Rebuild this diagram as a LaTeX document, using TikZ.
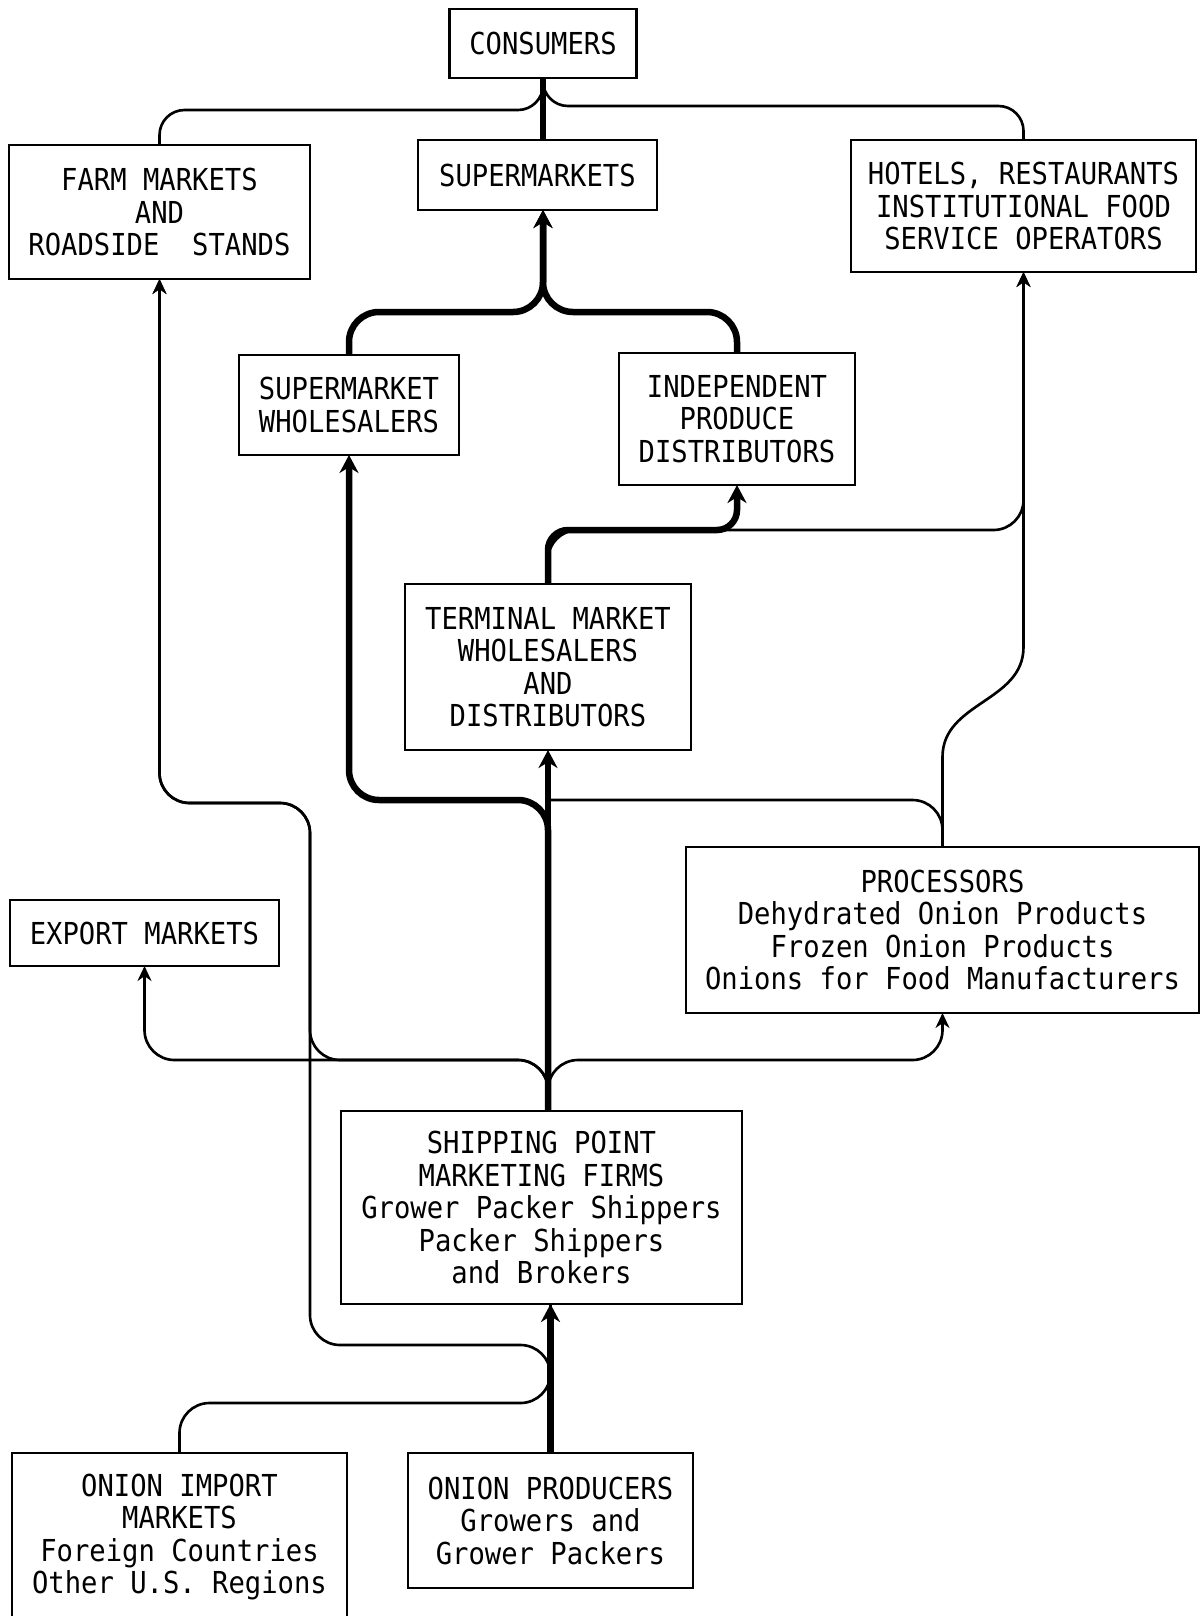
\documentclass[tikz,border=0pt]{standalone}
\usepackage{fontspec}
\usetikzlibrary{positioning,calc,arrows.meta}
\newfontfamily\boxfont[FakeStretch=0.9]{DejaVu Sans Mono}

\begin{document}
\begin{tikzpicture}[flowbox/.style={draw,line width=1.5pt,align=center,outer sep=0pt,inner sep=1mm,font=\boxfont\fontsize{17.2}{18.5}\selectfont},
		thinline/.style={line width=1.5pt,rounded corners=6mm},
		thickline/.style={line width=3.7pt,rounded corners=6mm},
		thinarrow/.style={thinline,-{Stealth[length=3mm,width=2.8mm]}},
		thickarrow/.style={thickline,-{Stealth[length=3.6mm,width=3.8mm]}}]
			\useasboundingbox (0,0) rectangle (240mm,-323.2mm);
			\clip (0,0) rectangle (240mm,-323.2mm);

			\node[flowbox,minimum width=37.4mm,minimum height=13.8mm]												(cons)	at (108.6mm,-8.7mm) {CONSUMERS};
			\node[flowbox,minimum width=47.8mm,minimum height=14mm,node distance=12.4mm,below=of cons,xshift=-1.1mm]		(supm)	{SUPERMARKETS};
			\node[flowbox,minimum width=60.2mm,minimum height=26.8mm,node distance=21.6mm,left=of supm,yshift=-7.4mm]		(farm)	{FARM MARKETS\\AND\\ROADSIDE~~STANDS};
			\node[flowbox,minimum width=69mm,minimum height=26.4mm,node distance=38.8mm,right=of supm,yshift=-6.2mm]		(hotel)	{HOTELS, RESTAURANTS\\INSTITUTIONAL FOOD\\SERVICE OPERATORS};

			\node[flowbox,minimum width=44mm,minimum height=20mm,node distance=29mm,below=of supm,xshift=-37.7mm]			(swhl)	{SUPERMARKET\\WHOLESALERS};
			\node[flowbox,minimum width=47.2mm,minimum height=26.4mm,node distance=32mm,right=of swhl,yshift=-2.8mm]		(indp)	{INDEPENDENT\\PRODUCE\\DISTRIBUTORS};
			\node[flowbox,minimum width=57.2mm,minimum height=33.2mm,node distance=19.8mm,below=of indp,xshift=-37.8mm]		(term)	{TERMINAL MARKET\\WHOLESALERS\\AND\\DISTRIBUTORS};

			\node[flowbox,minimum width=102.6mm,minimum height=33.2mm,node distance=19.4mm,below=of term,xshift=78.9mm]	(proc)	{PROCESSORS\\Dehydrated Onion Products\\Frozen Onion Products\\Onions for Food Manufacturers};
			\node[flowbox,minimum width=53.8mm,minimum height=13.2mm,node distance=81.4mm,left=of proc,yshift=-0.6mm]		(expo)	{EXPORT MARKETS};
			\node[flowbox,minimum width=80.2mm,minimum height=38.6mm,node distance=72.2mm,below=of term,xshift=-1.3mm]		(ship)	{SHIPPING POINT\\MARKETING FIRMS\\Grower Packer Shippers\\Packer Shippers\\and Brokers};
			\node[flowbox,minimum width=57mm,minimum height=27mm,node distance=29.8mm,below=of ship,xshift=1.8mm]			(prod)	{ONION PRODUCERS\\Growers and\\Grower Packers};
			\node[flowbox,minimum width=67mm,minimum height=33.6mm,node distance=12.2mm,left=of prod,yshift=-3.3mm]		(impt)	{ONION IMPORT\\MARKETS\\Foreign Countries\\Other U.S. Regions};

			\draw[thinline,rounded corners=5mm] (farm.north) |- ($(cons.south)+(0,-6.4mm)$) -- (cons.south);
			\draw[thinline,rounded corners=5mm] (hotel.north) |- ($(cons.south)+(0,-5.6mm)$) -- (cons.south);
			\draw[thinarrow] (term.south |- ship.north) |- ($(expo.south -| farm.east)+(0,-18.8mm)$) |- ($(farm.south)+(0,-104.8mm)$) -- (farm.south);
			\draw[thinarrow] (prod.north) |- ($(ship.south -| farm.east)+(0,-8.2mm)$) |- ($(farm.south)+(0,-104.8mm)$) -- (farm.south);
			\draw[thinline] (impt.north) |- ($(prod.north)+(0,10mm)$) -- (prod.north |- ship.south);
			\draw[thinarrow] (term.south |- ship.north) |- ($(expo.south)+(0,-18.8mm)$) -- (expo.south);
			\draw[thinarrow] (term.south |- ship.north) |- ($(proc.south)+(0,-9.4mm)$) -- (proc.south);
			\draw[thinline] (proc.north) |- ($(term.south)+(0,-10mm)$);
			\draw[thinarrow,sharp corners] (proc.north) -- ++(0,18mm) .. controls +(0,11mm) and +(0,-11mm) .. ($(hotel.south)+(0,-75mm)$) -- (hotel.south);
			\draw[thinarrow] (term.north) |- ($(indp.south)+(0,-9mm)$) -| (hotel.south);

			\draw[thickline] (supm.north -| cons.south) -- (cons.south);
			\draw[thickarrow] (swhl.north) |- ($(cons.south |- supm.south)+(0,-20.4mm)$) -- (cons.south |- supm.south);
			\draw[thickarrow] (indp.north) |- ($(cons.south |- supm.south)+(0,-20.4mm)$) -- (cons.south |- supm.south);
			\draw[thickarrow,rounded corners=4mm] (term.north) |- ($(indp.south)+(0,-9mm)$) -- (indp.south);
			\draw[thickarrow] (term.south |- ship.north) |- ($(swhl.south)+(0,-69mm)$) -- (swhl.south);
			\draw[thickarrow] (term.south |- ship.north) -- (term.south);
			\draw[thickarrow] (prod.north) -- (prod.north |- ship.south);
		\end{tikzpicture}
\end{document}
